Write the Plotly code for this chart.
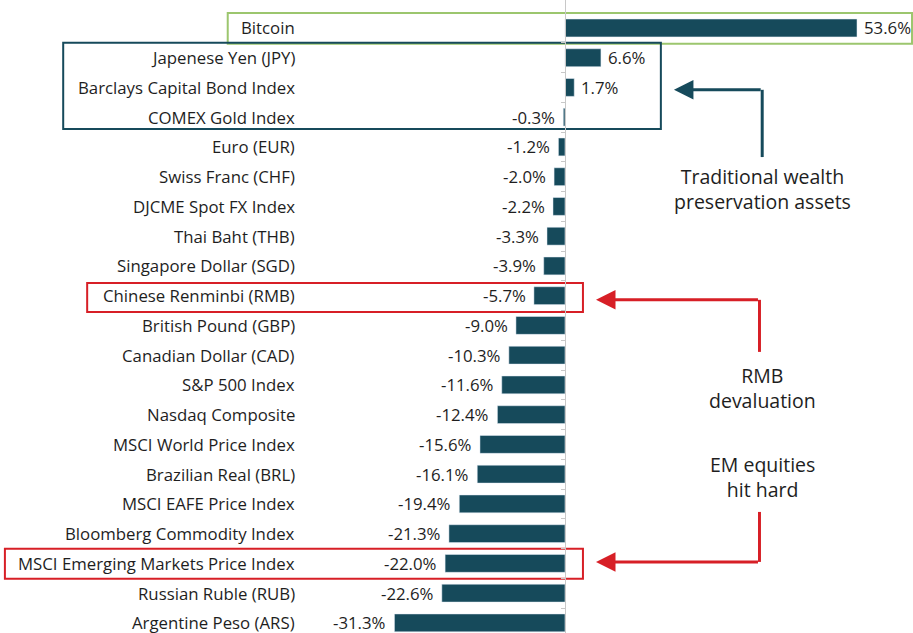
import plotly.graph_objects as go

# data, top to bottom
assets = [
    "Bitcoin", "Japenese Yen (JPY)", "Barclays Capital Bond Index", "COMEX Gold Index",
    "Euro (EUR)", "Swiss Franc (CHF)", "DJCME Spot FX Index", "Thai Baht (THB)",
    "Singapore Dollar (SGD)", "Chinese Renminbi (RMB)", "British Pound (GBP)",
    "Canadian Dollar (CAD)", "S&P 500 Index", "Nasdaq Composite", "MSCI World Price Index",
    "Brazilian Real (BRL)", "MSCI EAFE Price Index", "Bloomberg Commodity Index",
    "MSCI Emerging Markets Price Index", "Russian Ruble (RUB)", "Argentine Peso (ARS)",
]
returns = [53.6, 6.6, 1.7, -0.3, -1.2, -2.0, -2.2, -3.3, -3.9, -5.7, -9.0,
           -10.3, -11.6, -12.4, -15.6, -16.1, -19.4, -21.3, -22.0, -22.6, -31.3]

callouts = ["Traditional wealth<br>preservation assets", "RMB<br>devaluation", "EM equities<br>hit hard"]

BAR = "#164a5b"
TEAL = "#164a5b"
RED = "#d71f26"
GREEN = "#9cc66e"
TXT = "#1e1e1e"
FONT = "Open Sans"

rows = list(range(len(assets)))
fig = go.Figure()
fig.add_trace(go.Bar(x=returns, y=rows, orientation="h", marker_color=BAR,
                     width=0.6, hoverinfo="skip"))

# category labels, right aligned left of the zero line
LABEL_X = -49.2
for i, name in enumerate(assets):
    fig.add_annotation(x=LABEL_X, y=i, text=name, showarrow=False, xanchor="right",
                       font=dict(family=FONT, size=16.8, color=TXT))
    v = returns[i]
    fig.add_annotation(x=v, y=i, text=f"{v:.1f}%", showarrow=False,
                       xanchor="left" if v > 0 else "right", xshift=5 if v > 0 else -6,
                       font=dict(family=FONT, size=16.8, color=TXT))

# highlight boxes (x in %, y in row index)
def box(x0, x1, y0, y1, color):
    fig.add_shape(type="rect", x0=x0, x1=x1, y0=y0, y1=y1, xref="x", yref="y",
                  line=dict(color=color, width=2), fillcolor="rgba(0,0,0,0)", layer="below")

box(-61.9, 63.7, -0.5, 0.53, GREEN)
box(-92.1, 17.6, 0.5, 3.4, TEAL)
box(-87.7, 3.3, 8.57, 9.55, RED)
box(-102.8, 3.3, 17.51, 18.52, RED)

# callout arrows: vertical stem then horizontal arrow into box
def callout(xs, y_from, y_to, x_tip, color):
    fig.add_shape(type="line", x0=xs, x1=xs, y0=y_from, y1=y_to, xref="x", yref="y",
                  line=dict(color=color, width=3))
    fig.add_annotation(x=x_tip, y=y_to, ax=xs, ay=y_to, xref="x", yref="y", axref="x", ayref="y",
                       text="", showarrow=True, arrowhead=2, arrowsize=1.3, arrowwidth=3,
                       arrowcolor=color, standoff=0)

callout(36.2, 4.34, 2.08, 20.0, TEAL)
callout(35.7, 10.89, 9.14, 5.7, RED)
callout(35.7, 16.27, 17.95, 5.7, RED)

for txt, yy in zip(callouts, [5.4, 12.1, 15.1]):
    fig.add_annotation(x=36.3, y=yy, text=txt, showarrow=False,
                       font=dict(family=FONT, size=19.5, color=TXT))

fig.update_layout(
    width=913, height=633, margin=dict(l=0, r=0, t=0, b=0),
    plot_bgcolor="white", paper_bgcolor="white", showlegend=False,
    xaxis=dict(range=[-103.7, 63.88], visible=False, fixedrange=True),
    yaxis=dict(range=[20.34, -0.94], showgrid=False, zeroline=False, showticklabels=False,
               showline=True, linecolor="#c8c8c8", linewidth=1, ticks="outside", ticklen=4,
               tickcolor="#c8c8c8", tickvals=[i + 0.5 for i in rows[:-1]],
               anchor="free", position=565 / 913, fixedrange=True),
)

fig.write_html("out.html", config={"displayModeBar": False},
               post_script="document.body.style.margin='0';document.body.style.overflow='hidden';")
